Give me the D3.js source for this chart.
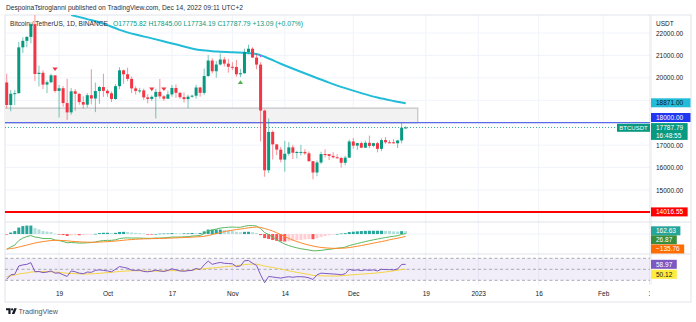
<!DOCTYPE html>
<html><head><meta charset="utf-8">
<script src="https://cdn.jsdelivr.net/npm/d3@7"></script>
<style>body{margin:0;background:#fff}svg{display:block}</style>
</head><body>
<script>
// ---------------- DATA ----------------
const firstDay = "2022-09-06";
const lastDay = "2022-12-14";
const opens = [19795,18790,19292,19319,21361,21651,21826,22395,20173,20227,19701,19804,20113,19417,19538,18876,18461,19401,19289,18920,18803,19227,19079,19412,19591,
19423,19312,19057,19630,20337,20159,19955,19531,19417,19440,19131,19060,19155,19375,19176,19069,19262,19550,19334,19139,19053,19163,19205,19571,19330,20080,20772,20295,20596,20818,20635,
20495,20485,20160,20207,21148,21299,20905,20591,18541,15880,17587,17034,16800,16355,16617,16900,16662,16693,16698,16635,16283,15781,16227,16603,16599,16522,16459,16428,16213,16443,
17163,16978,17092,16885,17105,16967,17088,16836,17224,17128,17127,17085,17209,17775.82];
const highs = [20180,19464,19458,21597,21810,21860,22488,22799,20545,20330,19887,20189,20116,19686,19635,19956,19550,19500,19316,19180,19315,20385,19790,19645,20185,
19485,19395,19719,20475,20365,20456,20058,19627,19558,19525,19268,19220,19513,19951,19227,19424,19676,19706,19356,19346,19250,19248,19695,19601,20413,21020,20876,20750,21085,20930,20848,
20700,20800,20393,21302,21480,21365,21069,20700,18587,18190,17655,17060,16920,17190,17134,17015,16751,17010,16820,16720,16291,16315,16706,16812,16603,16686,16595,16483,16526,17249,
17320,17105,17159,17202,17425,17107,17142,17299,17360,17227,17270,17241,18000,17845];
const lows = [18649,18510,18791,19291,21111,21366,21538,19860,19617,19497,19320,19758,19335,18232,18711,18125,18356,18531,18805,18629,18680,18816,18471,18843,19155,
19160,18920,19027,19495,19731,19853,19320,19257,19312,19020,18860,18965,18190,19070,18975,19064,19160,19100,19066,18900,18650,19112,19071,19160,19241,20050,20200,20005,20553,20510,20231,
20346,20050,20031,20180,21080,20886,20384,17166,15588,15754,16361,16549,16230,15815,16527,16378,16410,16542,16560,16263,15476,15616,16160,16458,16342,16400,16400,16003,16104,16428,
16840,16787,16866,16878,16867,16906,16678,16733,17058,17091,17071,16873,17085,17734.19];
const closes = [18790,19292,19319,21361,21651,21826,22395,20173,20227,19701,19804,20113,19417,19538,18876,18461,19401,19289,18920,18807,19227,19079,19412,19591,19422,
19310,19057,19630,20337,20159,19955,19531,19417,19440,19131,19060,19155,19375,19176,19069,19262,19550,19334,19139,19053,19163,19205,19571,19330,20080,20772,20295,20596,20818,20635,20495,
20485,20160,20207,21148,21299,20905,20591,18541,15880,17587,17034,16800,16355,16617,16900,16662,16693,16698,16635,16283,15781,16227,16603,16599,16522,16459,16428,16213,16443,17163,
16978,17092,16885,17105,16967,17088,16836,17224,17128,17127,17085,17209,17775,17787.79];

const maDates = ["2022-09-22","2022-09-26","2022-09-30","2022-10-04","2022-10-08","2022-10-12","2022-10-16","2022-10-20","2022-10-24","2022-10-28","2022-11-01","2022-11-05","2022-11-07","2022-11-09","2022-11-13","2022-11-17","2022-11-21","2022-11-25","2022-11-29","2022-12-03","2022-12-07","2022-12-11","2022-12-14"];
const maValues = [22800,22620,22420,22140,21930,21760,21580,21400,21240,21180,21140,21100,21060,20940,20630,20340,20060,19790,19540,19320,19120,18970,18871];

const macdLine = [-887,-754,-638,-377,-232,-145,-87,-174,-203,-261,-261,-261,-348,-377,-435,-505,-493,-505,-522,-522,-505,-493,-464,-406,-377,-365,-365,-336,-261,-232,-220,-232,-232,-232,-244,-249,-249,-232,-232,-220,-203,-174,-174,-174,-162,-151,-116,-104,-87,29,174,232,290,348,377,394,406,394,394,452,493,493,464,319,87,-29,-174,-319,-464,-580,-667,-742,-800,-853,-887,-928,-969,-969,-945,-916,-887,-858,-824,-795,-760,-667,-609,-551,-493,-435,-383,-336,-290,-244,-203,-162,-130,-95,-20,26.87];
const signalLine = [-870,-841,-812,-754,-696,-638,-580,-522,-476,-435,-406,-377,-365,-365,-377,-394,-418,-435,-452,-464,-470,-476,-476,-464,-452,-441,-423,-406,-383,-360,-336,-319,-302,-290,-278,-273,-267,-261,-255,-249,-238,-232,-220,-209,-203,-191,-180,-162,-151,-128,-87,-29,29,87,145,186,226,261,290,325,360,389,406,383,325,255,174,75,-35,-145,-249,-348,-435,-510,-580,-638,-696,-742,-777,-800,-818,-829,-829,-824,-812,-783,-748,-708,-667,-621,-574,-528,-481,-435,-389,-330,-285,-240,-190,-135.76];
const histogram = [-17,87,174,377,464,493,493,348,273,174,145,116,17,-12,-58,-110,-75,-70,-70,-58,-35,-17,12,58,75,75,58,70,122,128,116,87,70,58,35,-6,-12,5,23,29,35,58,46,35,41,41,64,58,64,157,261,261,261,261,232,209,180,133,104,128,133,104,58,-64,-238,-284,-348,-394,-429,-435,-418,-394,-365,-342,-307,-290,-300,-240,-168,-116,-70,-29,6,29,52,116,139,157,174,186,191,191,191,191,186,180,155,145,170,162.63];

const rsi = [32,40,41,56,58,59,62,45.6,46,44,45,47,43,43.5,40,37,47,45.5,43,42,45,44.5,48,49,48,47,45.5,50,55,53.5,52,48.5,48,48.5,46,45.5,46.5,48.5,47,46,48,51,49,47,46.5,47.5,48,51.5,49.5,58,65,59,61,62.5,61,60.5,60,55,56,65.5,66,61,57,40,25.6,37,36,35,34,35.5,36.5,35.5,36.5,36.5,36,34.5,31.5,40,43,42.5,42,41.5,41,40,42,50,48,49,47.5,49,48,49,47,50,49.5,49.5,49,50.5,58.9,58.97];
const rsiMa = [36.6,38,39.5,41.5,42.5,43.5,45,45.5,45.8,45.8,45.6,45.4,45,44.4,43.6,42.8,42.5,42.2,41.8,41.5,41.6,41.8,42.1,42.7,43.4,44,44.6,45.4,46,46.5,47,47.4,47.4,47.2,47,46.7,46.5,46.6,46.8,47.2,47.5,47.6,47.6,47.5,47.5,47.7,48.3,49.5,50.5,51,51.8,52.4,53,53.7,54.5,55.3,56,56.8,57.6,58.4,59.1,59.6,59.2,57.8,55.8,54.5,53.3,52,50.4,48.8,47.3,45.8,44.3,43.2,42,40.5,39,38.4,38.2,38,37.9,37.8,37.8,38.2,38.8,39.6,40.1,40.6,41.2,41.7,42.2,42.8,43.5,44.3,45.2,46.2,47.2,48.3,49.5,50.12];

const markerDates = ["2022-09-18","2022-10-12","2022-10-15","2022-11-03","2022-11-08"];
const markerTypes = ["down","down","down","up","purple"];

const timeTickDates = ["2022-09-19","2022-10-01","2022-10-17","2022-11-01","2022-11-14","2022-12-01","2022-12-19","2023-01-01","2023-01-16","2023-02-01","2023-02-13"];
const timeTickLabels = ["19","Oct","17","Nov","14","Dec","19","2023","16","Feb","13"];
const priceTicks = [15000,16000,17000,18000,19000,20000,21000,22000];

const zoneStart = "2022-09-01", zoneEnd = "2022-12-17", zoneLow = 18000, zoneHigh = 18650;
const supportLevel = 18000, lowLevel = 14016.55, lastPrice = 17787.79, maLast = 18871.00;

// ---------------- CHART ----------------
const W = 696, H = 322;
const FONT = "'Liberation Sans', Arial, sans-serif";
const parse = d3.utcParse("%Y-%m-%d");
const days = d3.utcDay.range(parse(firstDay), d3.utcDay.offset(parse(lastDay), 1));

const L = 5, R = 650, AX = 691, TOP = 15, P1 = 222, P2 = 254, P3 = 285, BOT = 302;
const x = d3.scaleUtc().domain([parse("2022-09-06"), parse("2023-02-13")]).range([6.7, 651.5]);
const y = d3.scaleLinear().domain([15000, 22000]).range([190, 33]);
const yM = d3.scaleLinear().domain([-1100, 700]).range([253, 222]);
const yR = d3.scaleLinear().domain([30, 70]).range([280.3, 258.3]);

const svg = d3.select("body").append("svg").attr("width", W).attr("height", H)
  .style("font-family", FONT);
const defs = svg.append("defs");
function clip(id, x0, y0, w, h) {
  defs.append("clipPath").attr("id", id).append("rect").attr("x", x0).attr("y", y0).attr("width", w).attr("height", h);
}
clip("cMain", L, TOP, R - L, P1 - TOP);
clip("cMacd", L, P1, R - L, P2 - P1);
clip("cRsi", L, P2, R - L, P3 - P2);
clip("cTime", 0, P3, R, BOT - P3);

// grid
const grid = svg.append("g");
grid.selectAll("line.v").data(timeTickDates).join("line")
  .attr("x1", d => x(parse(d))).attr("x2", d => x(parse(d)))
  .attr("y1", TOP).attr("y2", P3).attr("stroke", "#f0f3fa").attr("stroke-width", 1);
grid.selectAll("line.h").data(priceTicks).join("line")
  .attr("x1", L).attr("x2", R).attr("y1", d => y(d)).attr("y2", d => y(d))
  .attr("stroke", "#f0f3fa").attr("stroke-width", 1);
grid.append("line").attr("x1", L).attr("x2", R).attr("y1", yM(0)).attr("y2", yM(0)).attr("stroke", "#f0f3fa");

// frame
svg.append("rect").attr("x", L).attr("y", TOP).attr("width", AX - L).attr("height", BOT - TOP)
  .attr("fill", "none").attr("stroke", "#e0e3eb");
svg.append("line").attr("x1", R).attr("x2", R).attr("y1", TOP).attr("y2", P3).attr("stroke", "#e0e3eb");
[P1, P2].forEach(v => svg.append("line").attr("x1", L).attr("x2", AX).attr("y1", v).attr("y2", v).attr("stroke", "#e0e3eb"));

// main pane
const main = svg.append("g").attr("clip-path", "url(#cMain)");
main.append("rect").attr("x", x(parse(zoneStart))).attr("y", y(zoneHigh))
  .attr("width", x(parse(zoneEnd)) - x(parse(zoneStart))).attr("height", y(zoneLow) - y(zoneHigh))
  .attr("fill", "#f2f2f2").attr("stroke", "#c6c6c9").attr("stroke-width", 1.3);
main.append("line").attr("x1", L).attr("x2", R).attr("y1", y(supportLevel)).attr("y2", y(supportLevel))
  .attr("stroke", "#5a6ce8").attr("stroke-width", 1.3);
main.append("line").attr("x1", L).attr("x2", R).attr("y1", y(lowLevel)).attr("y2", y(lowLevel))
  .attr("stroke", "#ff0000").attr("stroke-width", 2);
main.append("line").attr("x1", L).attr("x2", R).attr("y1", y(lastPrice)).attr("y2", y(lastPrice))
  .attr("stroke", "#089981").attr("stroke-width", 0.8).attr("stroke-dasharray", "1,2");
main.append("path").datum(maDates.map((d, i) => [parse(d), maValues[i]]))
  .attr("fill", "none").attr("stroke", "#22bcd8").attr("stroke-width", 2)
  .attr("d", d3.line().x(d => x(d[0])).y(d => y(d[1])).curve(d3.curveMonotoneX));
const candles = days.map((d, i) => ({d, o: opens[i], h: highs[i], l: lows[i], c: closes[i]}));
const cg = main.append("g");
cg.selectAll("line.w").data(candles).join("line")
  .attr("x1", d => x(d.d)).attr("x2", d => x(d.d))
  .attr("y1", d => y(d.h)).attr("y2", d => y(d.l))
  .attr("stroke", d => d.c >= d.o ? "#089981" : "#f23645").attr("stroke-opacity", 0.55).attr("stroke-width", 1);
cg.selectAll("rect").data(candles).join("rect")
  .attr("x", d => x(d.d) - 1.5).attr("width", 3)
  .attr("y", d => Math.min(y(d.o), y(d.c)))
  .attr("height", d => Math.max(1, Math.abs(y(d.o) - y(d.c))))
  .attr("fill", d => d.c >= d.o ? "#089981" : "#f23645");
markerDates.forEach((md, k) => {
  const i = days.findIndex(d => +d === +parse(md));
  const cx = x(days[i]);
  const t = markerTypes[k];
  if (t === "down") {
    const ty = y(highs[i]) - 6;
    main.append("path").attr("d", `M${cx - 2.6},${ty - 1.8}L${cx + 2.6},${ty - 1.8}L${cx},${ty + 1.8}Z`).attr("fill", "#f23645");
  } else if (t === "up") {
    const ty = y(lows[i]) + 5;
    main.append("path").attr("d", `M${cx - 2.6},${ty + 1.8}L${cx + 2.6},${ty + 1.8}L${cx},${ty - 1.8}Z`).attr("fill", "#4caf50");
  } else {
    const ty = y(highs[i]) - 6;
    main.append("path").attr("d", `M${cx - 1.8},${ty - 1.2}L${cx + 1.8},${ty - 1.2}L${cx},${ty + 1.4}Z`).attr("fill", "#c85af0");
  }
});

// MACD pane
const mg = svg.append("g").attr("clip-path", "url(#cMacd)");
mg.selectAll("rect").data(histogram).join("rect")
  .attr("x", (v, i) => x(days[i]) - 1.5).attr("width", 3)
  .attr("y", v => Math.min(yM(0), yM(v))).attr("height", v => Math.max(0.6, Math.abs(yM(v) - yM(0))))
  .attr("fill", (v, i) => {
    const p = i > 0 ? histogram[i - 1] : v;
    if (v >= 0) return v >= p ? "#26a69a" : "#b2dfdb";
    return v <= p ? "#ff5252" : "#ffcdd2";
  });
const lm = d3.line().x((v, i) => x(days[i])).y(v => yM(v));
mg.append("path").datum(macdLine).attr("fill", "none").attr("stroke", "#5cb85f").attr("stroke-width", 1).attr("d", lm);
mg.append("path").datum(signalLine).attr("fill", "none").attr("stroke", "#ff8a2a").attr("stroke-width", 1).attr("d", lm);

// RSI pane
const rg = svg.append("g").attr("clip-path", "url(#cRsi)");
rg.append("rect").attr("x", L).attr("width", R - L).attr("y", yR(70)).attr("height", yR(30) - yR(70))
  .attr("fill", "rgba(126,87,194,0.1)");
[70, 50, 30].forEach(v => rg.append("line").attr("x1", L).attr("x2", R).attr("y1", yR(v)).attr("y2", yR(v))
  .attr("stroke", "#9598a1").attr("stroke-width", 0.8).attr("stroke-dasharray", "3,2.5"));
const lr = d3.line().x((v, i) => x(days[i])).y(v => yR(v));
rg.append("path").datum(rsiMa).attr("fill", "none").attr("stroke", "#f5d442").attr("stroke-width", 1).attr("d", lr);
rg.append("path").datum(rsi).attr("fill", "none").attr("stroke", "#7e57c2").attr("stroke-width", 1).attr("d", lr);

// time axis
const tAxis = svg.append("g").attr("clip-path", "url(#cTime)").append("g").attr("transform", `translate(0,${P3 + 6})`)
  .call(d3.axisBottom(x).tickValues(timeTickDates.map(parse)).tickFormat((d, i) => timeTickLabels[i]).tickSize(0).tickPadding(0));
tAxis.select(".domain").remove();
tAxis.selectAll("text").attr("font-size", 6.5).attr("font-family", FONT).attr("fill", "#131722");

// value boxes (drawn first to know which tick labels they hide)
const boxCenters = [];
const boxLayer = svg.append("g");
function box(yc, label, bg, fg, opt = {}) {
  const g = boxLayer.append("g");
  const r = g.append("rect").attr("fill", bg);
  const t = g.append("text").attr("x", 656).attr("y", yc).attr("dy", "0.35em")
    .attr("font-size", 6.5).attr("fill", fg).text(label);
  const w = opt.full ? (AX - 0.5 - 651) : t.node().getComputedTextLength() + 9.5;
  const h = opt.h || 9;
  r.attr("x", 651).attr("y", yc - 4.5).attr("width", w).attr("height", h);
  boxCenters.push([yc - 4.5, yc - 4.5 + h]);
  return g;
}
box(102.8, maLast.toFixed(2), "#22bcd8", "#131722", {full: true});
box(117.5, supportLevel.toFixed(2), "#2136f0", "#ffffff", {full: true});
const tb = box(127.6, lastPrice.toFixed(2), "#089981", "#ffffff", {h: 16.8});
tb.append("text").attr("x", 656).attr("y", 136.2).attr("dy", "0.35em").attr("font-size", 6.5).attr("fill", "#ffffff").text("16:48:55");
box(211.9, lowLevel.toFixed(2), "#ff0000", "#ffffff");
box(230.8, histogram[histogram.length - 1].toFixed(2), "#26a69a", "#ffffff");
box(239.8, macdLine[macdLine.length - 1].toFixed(2), "#388e3c", "#ffffff");
box(249.0, "\u2212" + Math.abs(signalLine[signalLine.length - 1]).toFixed(2), "#ff6d00", "#ffffff");
box(264.3, rsi[rsi.length - 1].toFixed(2), "#7e57c2", "#ffffff");
box(274.3, rsiMa[rsiMa.length - 1].toFixed(2), "#ffeb3b", "#131722");

// price axis: labels hidden where a value box sits (as TradingView does)
const hidden = v => boxCenters.some(([a, b]) => y(v) + 3.5 > a && y(v) - 3.5 < b);
const pAxis = svg.insert("g", () => boxLayer.node()).attr("transform", `translate(${R},0)`)
  .call(d3.axisRight(y).tickValues(priceTicks.filter(v => !hidden(v))).tickFormat(d => d.toFixed(2)).tickSize(0).tickPadding(6));
pAxis.select(".domain").remove();
pAxis.selectAll("text").attr("font-size", 6.5).attr("font-family", FONT).attr("fill", "#131722");
svg.append("text").attr("x", 656).attr("y", 25.5).attr("font-size", 6.5).attr("fill", "#131722").text("USDT");

// symbol tag
svg.append("rect").attr("x", 617).attr("y", 123.8).attr("width", 33).attr("height", 8).attr("fill", "#089981");
svg.append("text").attr("x", 633.5).attr("y", 127.8).attr("dy", "0.35em").attr("text-anchor", "middle")
  .attr("font-size", 6).attr("fill", "#ffffff").text("BTCUSDT");

// header texts
svg.append("text").attr("x", 6).attr("y", 10).attr("font-size", 6.5).attr("fill", "#2a2e39")
  .attr("textLength", 237).attr("lengthAdjust", "spacingAndGlyphs")
  .text("DespoinaTsiroglanni published on TradingView.com, Dec 14, 2022 09:11 UTC+2");
svg.append("text").attr("x", 10).attr("y", 25.5).attr("font-size", 6.5).attr("fill", "#2a2e39")
  .attr("textLength", 98).attr("lengthAdjust", "spacingAndGlyphs")
  .text("Bitcoin / TetherUS, 1D, BINANCE");
svg.append("text").attr("x", 113).attr("y", 25.5).attr("font-size", 6.5).attr("fill", "#089981")
  .attr("textLength", 190).attr("lengthAdjust", "spacingAndGlyphs")
  .text("O17775.82 H17845.00 L17734.19 C17787.79 +13.09 (+0.07%)");

// footer logo
const lg = svg.append("g").attr("fill", "#131722");
lg.append("path").attr("d", "M6,308.3H10.6V314H8.4V310.2H6Z");
lg.append("circle").attr("cx", 12.1).attr("cy", 309.4).attr("r", 1.1);
lg.append("path").attr("d", "M14.2,308.3H16.8L14.4,314H11.8Z");
svg.append("text").attr("x", 18.5).attr("y", 314).attr("font-size", 7.2).attr("fill", "#50535e").text("TradingView");
</script>
</body></html>
